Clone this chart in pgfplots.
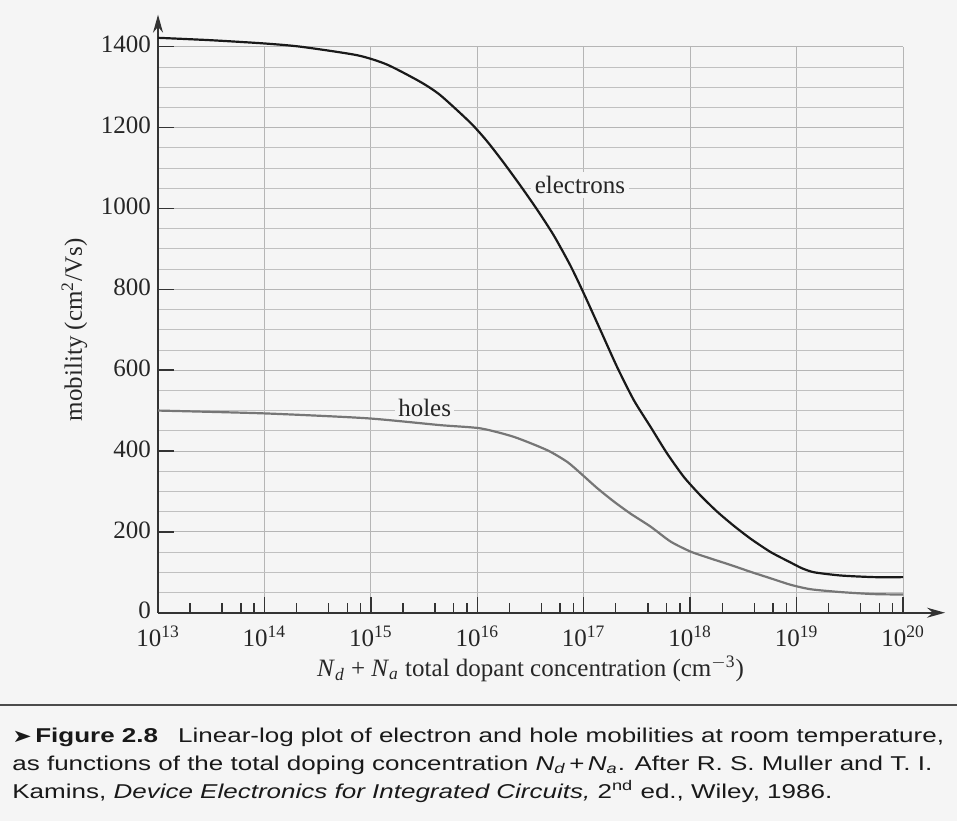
\documentclass[border=0pt]{standalone}
\usepackage{fontspec}
\setmainfont{Liberation Serif}
\newfontfamily\capfont[FakeStretch=1.3]{Liberation Sans}
\newfontfamily\symfont[FakeStretch=1.3]{DejaVu Sans}
\usepackage{pgfplots}
\pgfplotsset{compat=1.18}
\usetikzlibrary{arrows.meta}
\definecolor{paper}{HTML}{F5F5F5}
\definecolor{gridc}{HTML}{B5B5B5}
\definecolor{holec}{HTML}{767676}

\begin{document}
\begin{tikzpicture}[x=1pt,y=1pt]
\useasboundingbox[fill=paper] (0,0) rectangle (478.5,410.5);
\begin{axis}[
  at={(79pt,104.15pt)}, anchor=south west,
  scale only axis, width=372.5pt, height=283pt,
  xmode=log, log basis x=10,
  xmin=1e13, xmax=1e20, ymin=0, ymax=1400,
  clip=false,
  axis lines=left,
  axis line style={black!80, line width=0.8pt},
  x axis line style={-{Stealth[length=9pt,width=5pt]}, shorten >=-21pt},
  y axis line style={-{Stealth[length=9pt,width=5pt]}, shorten >=-16pt},
  xtick={1e13,1e14,1e15,1e16,1e17,1e18,1e19,1e20},
  xticklabels={10\textsuperscript{13},10\textsuperscript{14},10\textsuperscript{15},10\textsuperscript{16},10\textsuperscript{17},10\textsuperscript{18},10\textsuperscript{19},10\textsuperscript{20}},
  ytick={0,200,400,600,800,1000,1200,1400},
  minor y tick num=3,
  grid=both,
  major grid style={gridc, line width=0.45pt},
  minor grid style={gridc!85, line width=0.4pt},
  tick align=inside, major tick length=8pt, minor tick length=0pt,
  tick style={black!80, line width=0.7pt},
  extra x ticks={2e13,4e13,6e13,8e13,2e14,4e14,6e14,8e14,2e15,4e15,6e15,8e15,2e16,4e16,6e16,8e16,2e17,4e17,6e17,8e17,2e18,4e18,6e18,8e18,2e19,4e19,6e19,8e19},
  extra x tick labels={},
  extra x tick style={grid=none, major tick length=5pt},
  /pgf/number format/.cd, 1000 sep={}, assume math mode=true, /pgfplots/.cd,
  tick label style={font=\fontsize{12.5}{14}\selectfont, text=black!85},
  xticklabel style={yshift=-3pt},
  yticklabel style={yshift=1pt},
  label style={font=\fontsize{12.5}{14}\selectfont, text=black!85},
  xlabel style={yshift=2pt},
  xlabel={\textit{N}\textsubscript{\textit{d}} + \textit{N}\textsubscript{\textit{a}} total dopant concentration (cm\textsuperscript{$-$3})},
  ylabel={mobility (cm\textsuperscript{2}/Vs)},
]
% curve labels (drawn first so the curves stay on top)
\node[fill=paper, inner sep=2pt, font=\fontsize{12.5}{14}\selectfont, text=black!85] at (axis cs:9.2e16,1058) {electrons};
\node[fill=paper, inner sep=1.5pt, font=\fontsize{12.5}{14}\selectfont, text=black!85] at (axis cs:3.2e15,506) {holes};
% electrons
\addplot[black!90, line width=1.1pt, smooth, tension=0.4] coordinates {
(1e13,1422) (3.162e13,1416) (1e14,1408) (2.188e14,1400) (7.413e14,1379)
(1.413e15,1356) (2.917e15,1313) (4.498e15,1280) (8.610e15,1212) (1.236e16,1166)
(1.770e16,1113) (2.547e16,1056) (3.648e16,997) (5.236e16,933) (7.516e16,858)
(1e17,790) (1.435e17,699) (2.056e17,608) (2.951e17,526) (4.236e17,460)
(6.067e17,394) (8.710e17,336) (1.250e18,290) (1.791e18,250) (2.570e18,215)
(3.698e18,183) (5.702e18,150) (8.810e18,124) (1.122e19,110) (1.459e19,100)
(2.600e19,92) (5.358e19,88) (1e20,88)
};
% holes
\addplot[holec, line width=1.1pt, smooth, tension=0.4] coordinates {
(1e13,500) (1e14,493) (9.120e14,481) (4.467e15,464) (1.069e16,456) (2.203e16,435)
(4.539e16,402) (6.998e16,373) (9.333e16,345) (1.340e17,308) (1.919e17,275)
(2.754e17,245) (4.246e17,213) (6.546e17,176) (1.012e18,151) (1.560e18,134)
(2.404e18,118) (3.707e18,101) (5.715e18,85) (8.810e18,69) (1.358e19,58)
(2.600e19,51) (5.358e19,46) (1e20,45)
};
\end{axis}
% caption
\draw[line width=1pt, black!70] (0,58) -- (478.5,58);
\begin{scope}[every node/.style={anchor=base west, inner sep=0pt, font=\capfont\fontsize{10}{14}\selectfont, text=black!90}]
\node at (6,39.5) {{\symfont\fontsize{9}{12}\selectfont ➤}\,\textbf{Figure 2.8}\quad Linear-log plot of electron and hole mobilities at room temperature,};
\node at (6,25.5) {as functions of the total doping concentration \textit{N}\textsubscript{\textit{d}}\,+\,\textit{N}\textsubscript{\textit{a}}. After R. S. Muller and T. I.};
\node at (6,11.5) {Kamins, \textit{Device Electronics for Integrated Circuits,} 2\textsuperscript{nd} ed., Wiley, 1986.};
\end{scope}
\end{tikzpicture}
\end{document}
